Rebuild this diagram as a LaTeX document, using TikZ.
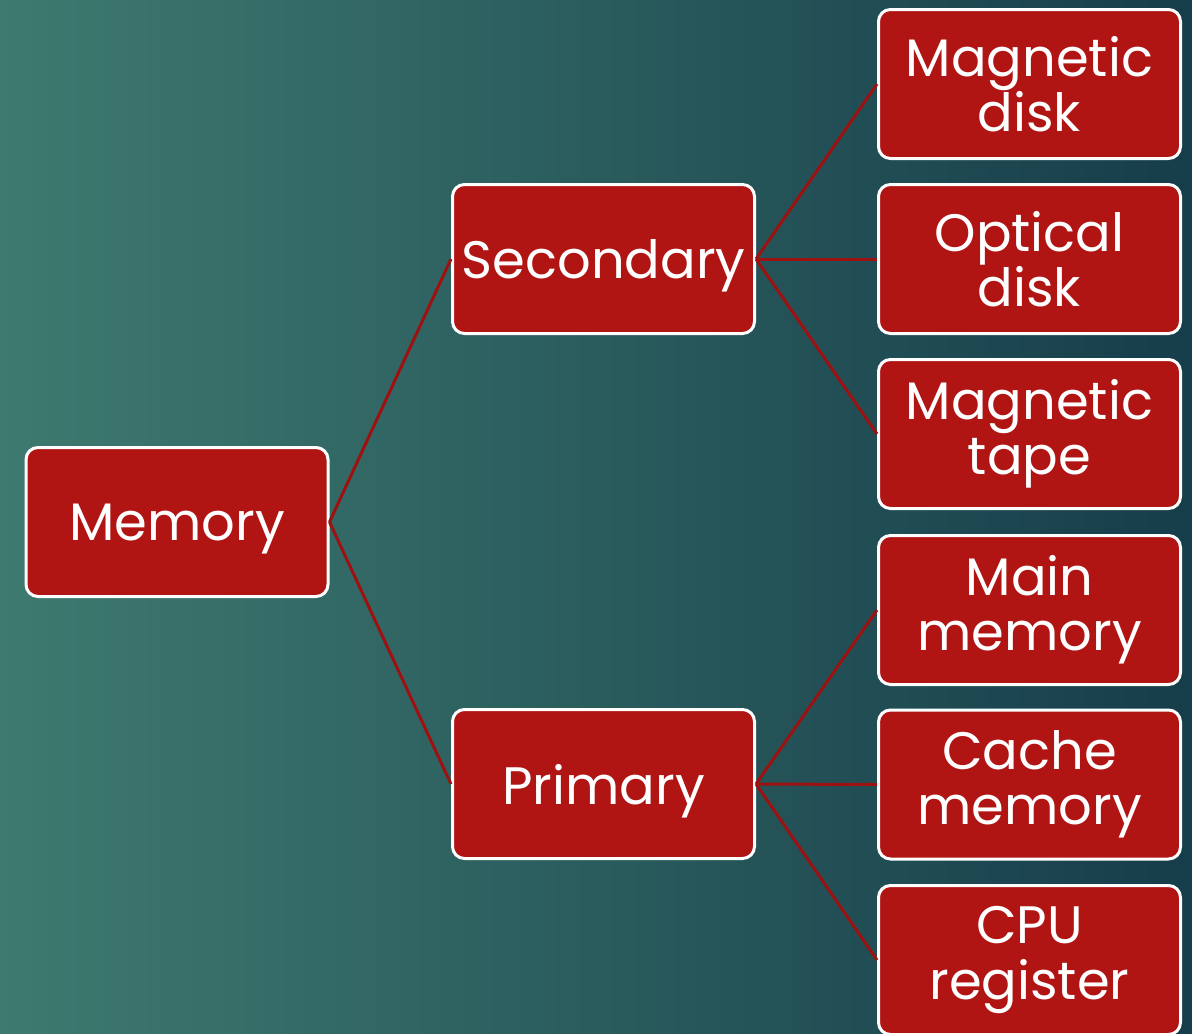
\documentclass[tikz,border=0pt]{standalone}
\usepackage{fontspec}
\setmainfont{Poppins}
\usepackage{tikz}
\usepackage{xcolor}
\usetikzlibrary{positioning,calc}
\definecolor{TealLight}{HTML}{3E7A70}
\definecolor{TealDark}{HTML}{163D4A}
\definecolor{BoxRed}{HTML}{B01514}
\definecolor{LinkRed}{HTML}{9E1111}

\begin{document}
\begin{tikzpicture}[
  mem/.style={draw=white,fill=BoxRed,line width=0.06cm,rounded corners=0.24cm,
    minimum width=6.04cm,minimum height=2.98cm,text width=5.9cm,align=center,
    inner sep=0pt,font=\fontsize{30}{31.5}\selectfont,text=white},
  single/.style={text depth=0pt},
  link/.style={draw=LinkRed,line width=0.06cm}]
  \useasboundingbox (0,0) rectangle (23.84,-20.66);
  \shade[left color=TealLight,right color=TealDark] (0,0) rectangle (23.84,-20.66);

  \node[mem,single] (memory) at (3.54,-10.44) {Memory};
  \node[mem,single] (secondary) at (12.07,-5.18) {Secondary};
  \node[mem,single] (primary) at (12.07,-15.68) {Primary};

  \node[mem] (magdisk) at (20.59,-1.68) {Magnetic\\disk};
  \node[mem] (optdisk) at (20.59,-5.18) {Optical\\disk};
  \node[mem] (magtape) at (20.59,-8.68) {Magnetic\\tape};
  \node[mem] (mainmem) at (20.59,-12.20) {Main\\memory};
  \node[mem] (cachemem) at (20.59,-15.69) {Cache\\memory};
  \node[mem] (cpureg) at (20.59,-19.20) {CPU\\register};

  \draw[link] (memory.east) -- (secondary.west);
  \draw[link] (memory.east) -- (primary.west);
  \foreach \c in {magdisk,optdisk,magtape}
    \draw[link] (secondary.east) -- (\c.west);
  \foreach \c in {mainmem,cachemem,cpureg}
    \draw[link] (primary.east) -- (\c.west);
\end{tikzpicture}
\end{document}
